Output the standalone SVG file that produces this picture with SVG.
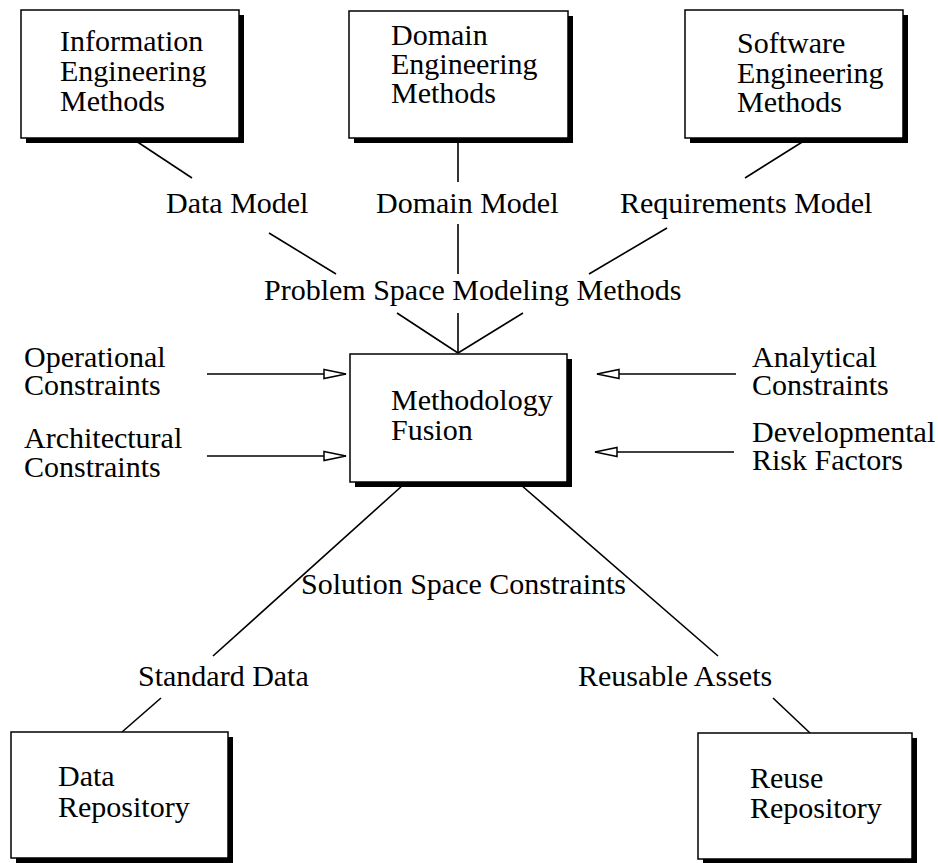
<svg xmlns="http://www.w3.org/2000/svg" width="938" height="863" viewBox="0 0 938 863">
<style>
text { font-family: "Liberation Serif", "Times New Roman", serif; font-size: 30px; fill: #000; }
.box { fill: #fff; stroke: #000; stroke-width: 1.5; }
.shadow { fill: #000; }
.conn line { stroke: #000; stroke-width: 1.6; }
.arr { marker-end: url(#tri); }
</style>
<defs>
<marker id="tri" markerUnits="userSpaceOnUse" markerWidth="24" markerHeight="12" refX="22" refY="5" orient="auto" viewBox="-1 0 24 10">
<path d="M0,0.5 L22,5 L0,9.5 Z" fill="#fff" stroke="#000" stroke-width="1.5"/>
</marker>
</defs>
<g id="connectors" class="conn">
<line x1="133" y1="139" x2="192" y2="178"/>
<line x1="269" y1="233" x2="336" y2="274"/>
<line x1="458" y1="138" x2="458" y2="182"/>
<line x1="458" y1="224" x2="458" y2="274"/>
<line x1="807" y1="139" x2="745" y2="178"/>
<line x1="667" y1="228" x2="589" y2="274"/>
<line x1="397" y1="313" x2="458" y2="353"/>
<line x1="458" y1="313" x2="458" y2="353"/>
<line x1="523" y1="313" x2="458" y2="353"/>
<line class="arr" x1="207" y1="374" x2="346" y2="374"/>
<line class="arr" x1="207" y1="456" x2="346" y2="456"/>
<line class="arr" x1="736" y1="374" x2="597" y2="374"/>
<line class="arr" x1="734" y1="452" x2="595" y2="452"/>
<line x1="403" y1="485" x2="213" y2="656"/>
<line x1="521" y1="485" x2="718" y2="656"/>
<line x1="161" y1="698" x2="122" y2="732"/>
<line x1="773" y1="698" x2="810" y2="733"/>
</g>
<g id="labels">
<text x="166" y="213">Data Model</text>
<text x="376" y="213">Domain Model</text>
<text x="620" y="213">Requirements Model</text>
<text x="264" y="300">Problem Space Modeling Methods</text>
<text x="24" y="367">Operational</text>
<text x="24" y="395">Constraints</text>
<text x="24" y="448">Architectural</text>
<text x="24" y="477">Constraints</text>
<text x="752" y="367">Analytical</text>
<text x="752" y="395">Constraints</text>
<text x="752" y="442">Developmental</text>
<text x="752" y="470">Risk Factors</text>
<text x="301" y="594">Solution Space Constraints</text>
<text x="138" y="686">Standard Data</text>
<text x="578" y="686">Reusable Assets</text>
</g>
<g id="n-info">
<rect class="shadow" x="26" y="15" width="218" height="128"/>
<rect class="box" x="21" y="10" width="218" height="128"/>
<text x="60" y="51">Information</text>
<text x="60" y="81">Engineering</text>
<text x="60" y="111">Methods</text>
</g>
<g id="n-domain">
<rect class="shadow" x="354" y="16" width="219" height="127"/>
<rect class="box" x="349" y="11" width="219" height="127"/>
<text x="391" y="45">Domain</text>
<text x="391" y="74">Engineering</text>
<text x="391" y="103">Methods</text>
</g>
<g id="n-software">
<rect class="shadow" x="690" y="15" width="218" height="128"/>
<rect class="box" x="685" y="10" width="218" height="128"/>
<text x="737" y="53">Software</text>
<text x="737" y="83">Engineering</text>
<text x="737" y="112">Methods</text>
</g>
<g id="n-fusion">
<rect class="shadow" x="355" y="359" width="217" height="128"/>
<rect class="box" x="350" y="354" width="217" height="128"/>
<text x="391" y="410">Methodology</text>
<text x="391" y="440">Fusion</text>
</g>
<g id="n-datarepo">
<rect class="shadow" x="16" y="737" width="217" height="126"/>
<rect class="box" x="11" y="732" width="217" height="126"/>
<text x="58" y="786">Data</text>
<text x="58" y="817">Repository</text>
</g>
<g id="n-reuserepo">
<rect class="shadow" x="703" y="738" width="214" height="126"/>
<rect class="box" x="698" y="733" width="214" height="126"/>
<text x="750" y="788">Reuse</text>
<text x="750" y="818">Repository</text>
</g>
</svg>
